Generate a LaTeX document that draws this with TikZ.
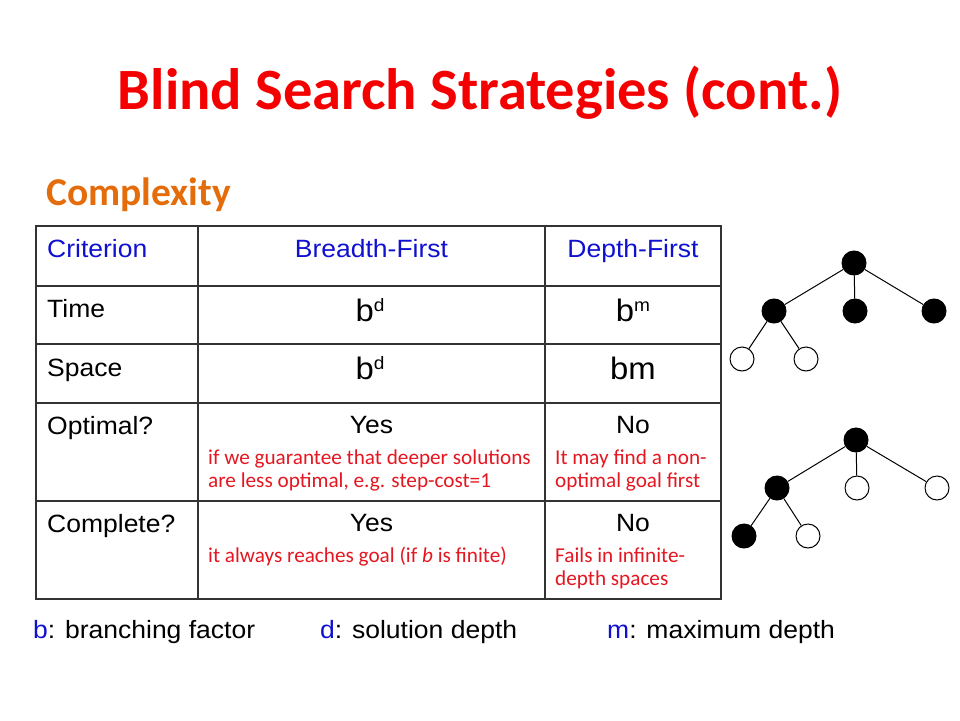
\documentclass[tikz,border=0pt]{standalone}
\usepackage{fontspec}
\setmainfont{Liberation Sans}
\newfontfamily\arialf[FakeStretch=1.06]{Liberation Sans}
\newfontfamily\calib{Carlito}
\definecolor{titlered}{RGB}{245,0,0}
\definecolor{orng}{RGB}{228,108,10}
\definecolor{hblue}{RGB}{16,16,208}
\definecolor{notered}{RGB}{228,22,32}
\tikzset{
  cell/.style={inner sep=0pt, font=\arialf\fontsize{25}{30}\selectfont},
  big/.style={inner sep=0pt, font=\arialf\fontsize{31}{36}\selectfont},
  note/.style={inner sep=0pt, text=notered, font=\calib\fontsize{21.2}{24}\selectfont},
  leg/.style={inner sep=0pt, font=\arialf\fontsize{25}{30}\selectfont},
  grid/.style={line width=1.2pt, draw=black!80},
  full/.style={circle, draw, line width=1pt, fill=black, minimum size=24pt, inner sep=0pt},
  open/.style={circle, draw, line width=1pt, fill=white, minimum size=24pt, inner sep=0pt},
  edge/.style={line width=1pt}
}
\newcommand{\sups}[1]{\raisebox{9.5pt}{\arialf\fontsize{18}{18}\selectfont #1}}
\begin{document}
\begin{tikzpicture}[x=1pt,y=-1pt]
\useasboundingbox (0,0) rectangle (960,720);
% title
\node[anchor=base, inner sep=0pt, text=titlered, font=\calib\bfseries\fontsize{58.5}{66}\selectfont] (title) at (480,109) {Blind Search Strategies (cont.)};
\node[anchor=base west, inner sep=0pt, text=orng, font=\calib\bfseries\fontsize{39.5}{46}\selectfont] (cplx) at (46,205) {Complexity};
% table grid
\draw[grid] (36,226) rectangle (721,599);
\foreach \yy in {286,344,403,501} \draw[grid] (36,\yy) -- (721,\yy);
\foreach \xx in {198,545} \draw[grid] (\xx,226) -- (\xx,599);
% header
\node[cell, anchor=base west, text=hblue] (hc) at (47,257) {Criterion};
\node[cell, anchor=base, text=hblue] (hb) at (371.5,257) {Breadth-First};
\node[cell, anchor=base, text=hblue] (hd) at (633,257) {Depth-First};
% time
\node[cell, anchor=base west] (rt) at (47,317) {Time};
\node[big, anchor=base] (tb) at (370,321) {b\sups{d}};
\node[big, anchor=base] (td) at (633,321) {b\sups{m}};
% space
\node[cell, anchor=base west] (rs) at (47,376) {Space};
\node[big, anchor=base] (sb) at (370,379) {b\sups{d}};
\node[big, anchor=base] (sd) at (633,379) {bm};
% optimal
\node[cell, anchor=base west] (ro) at (47,434) {Optimal?};
\node[cell, anchor=base] (ob) at (371.5,433) {Yes};
\node[note, anchor=base west] (ob1) at (208,464) {if we guarantee that deeper solutions};
\node[note, anchor=base west] (ob2) at (208,487) {are less optimal, e.g. step-cost=1};
\node[cell, anchor=base] (od) at (633,433) {No};
\node[note, anchor=base west] (od1) at (555,464) {It may find a non-};
\node[note, anchor=base west] (od2) at (555,487) {optimal goal first};
% complete
\node[cell, anchor=base west] (rc) at (47,532) {Complete?};
\node[cell, anchor=base] (cb) at (371.5,531) {Yes};
\node[note, anchor=base west] (cb1) at (208,562) {it always reaches goal (if \textit{b} is finite)};
\node[cell, anchor=base] (cd) at (633,531) {No};
\node[note, anchor=base west] (cd1) at (555,562) {Fails in infinite-};
\node[note, anchor=base west] (cd2) at (555,585) {depth spaces};
% legend
\node[leg, anchor=base west] (lb) at (33,638) {\textcolor{hblue}{b}: branching factor};
\node[leg, anchor=base west] (ld) at (320,638) {\textcolor{hblue}{d}: solution depth};
\node[leg, anchor=base west] (lm) at (607,638) {\textcolor{hblue}{m}: maximum depth};
% tree 1
\node[full] (a0) at (854,263) {};
\node[full] (a1) at (774,311) {};
\node[full] (a2) at (855,311) {};
\node[full] (a3) at (934,311) {};
\node[open] (a4) at (742,359) {};
\node[open] (a5) at (806,359) {};
\draw[edge] (a0) -- (a1);
\draw[edge] (a0) -- (a2);
\draw[edge] (a0) -- (a3);
\draw[edge] (a1) -- (a4);
\draw[edge] (a1) -- (a5);
% tree 2
\node[full] (b0) at (856,440) {};
\node[full] (b1) at (777,488) {};
\node[open] (b2) at (857,488) {};
\node[open] (b3) at (937,488) {};
\node[full] (b4) at (744,536) {};
\node[open] (b5) at (808,536) {};
\draw[edge] (b0) -- (b1);
\draw[edge] (b0) -- (b2);
\draw[edge] (b0) -- (b3);
\draw[edge] (b1) -- (b4);
\draw[edge] (b1) -- (b5);
\end{tikzpicture}
\end{document}
